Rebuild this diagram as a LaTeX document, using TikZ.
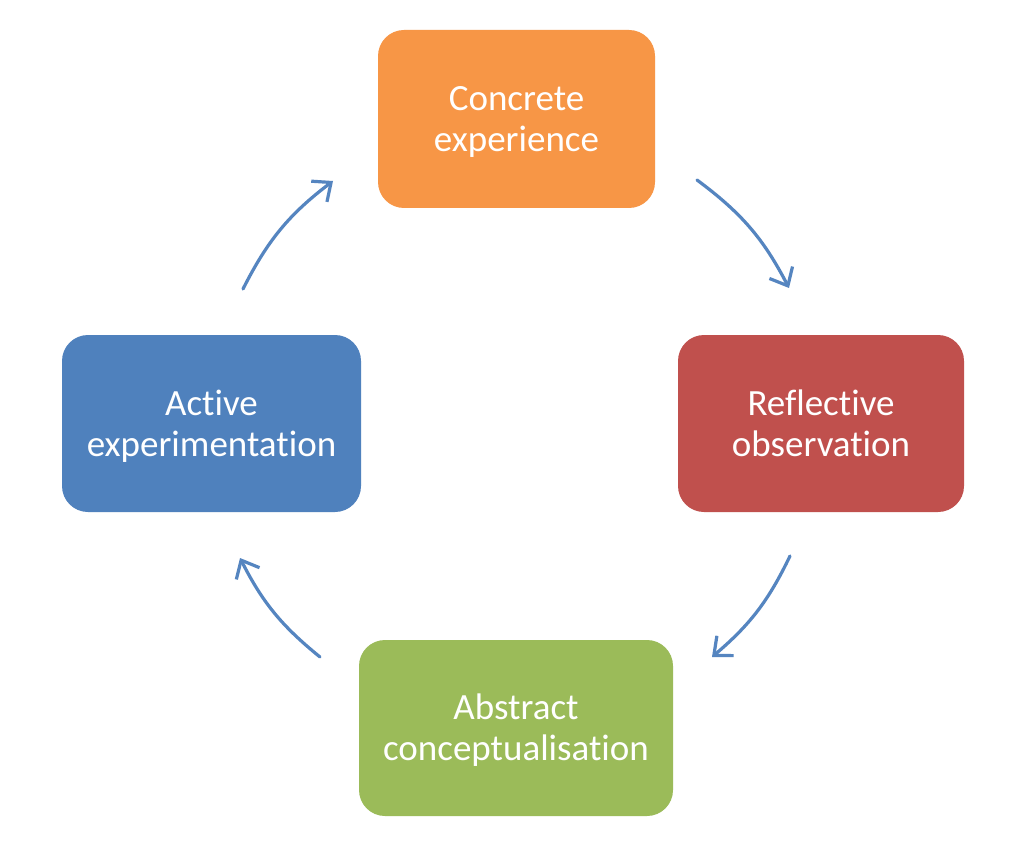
\documentclass[tikz,border=0pt]{standalone}
\usepackage{fontspec}
\setmainfont[Ligatures={NoCommon,NoContextual}]{Carlito}
\usetikzlibrary{arrows.meta}
\definecolor{orng}{HTML}{F79646}
\definecolor{redd}{HTML}{C0504D}
\definecolor{blu}{HTML}{4F81BD}
\definecolor{grn}{HTML}{9BBB59}
\definecolor{arr}{HTML}{5585C0}
\newcommand{\stagetext}[2]{\raisebox{0pt}[\dimexpr\height+8pt\relax]{\begin{tabular}{@{}c@{}}#1\\#2\end{tabular}}}
\newcommand{\nl}{\kern0pt }
\tikzset{
  stagebox/.style={rounded corners=26pt, text=white, align=center, inner sep=0pt,
    font=\fontsize{37}{41}\selectfont},
  cyc/.style={draw=arr, line width=3.2pt, line cap=round,
    -{Straight Barb[length=15pt,width=26pt,line width=3.2pt]}}
}
\begin{document}
\begin{tikzpicture}[x=1pt,y=-1pt]
\useasboundingbox (0,0) rectangle (1024,858);
\fill[white] (0,0) rectangle (1024,858);
\node[stagebox, fill=orng, minimum width=277pt, minimum height=178pt] (ce) at (516.5,119) {\stagetext{Concrete}{experience}};
\node[stagebox, fill=redd, minimum width=286pt, minimum height=177pt] (ro) at (821,423.5) {\stagetext{Reflect\nl ive}{observation}};
\node[stagebox, fill=blu, minimum width=299pt, minimum height=177pt] (ae) at (211.5,423.5) {\stagetext{Act\nl ive}{experimentat\nl ion}};
\node[stagebox, fill=grn, minimum width=314pt, minimum height=176pt] (ac) at (516,728) {\stagetext{Abstract}{conceptualisation}};
\coordinate (a1s) at (697,180);
\coordinate (a1e) at (789,288);
\coordinate (a2s) at (790,556);
\coordinate (a2e) at (712,657);
\coordinate (a3s) at (320,657);
\coordinate (a3e) at (240,558);
\coordinate (a4s) at (243,289);
\coordinate (a4e) at (333,181);
\draw[cyc] (a1s) to[bend left=13] (a1e);
\draw[cyc] (a2s) to[bend left=12] (a2e);
\draw[cyc] (a3s) to[bend left=12] (a3e);
\draw[cyc] (a4s) to[bend left=13] (a4e);
\end{tikzpicture}
\end{document}
